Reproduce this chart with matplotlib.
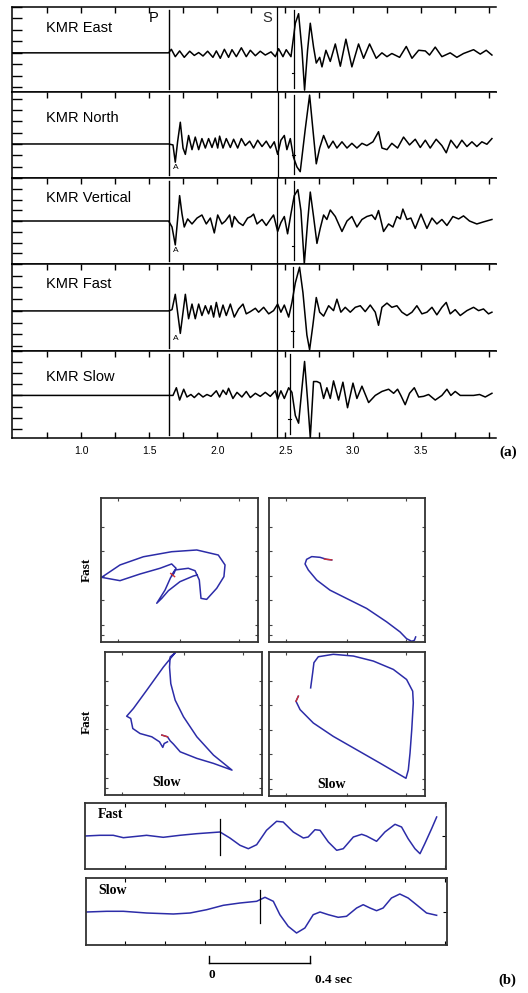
import numpy as np
import matplotlib.pyplot as plt

plt.rcParams["font.family"] = "Liberation Sans"

W, H = 528, 993

# ---------------- (a) KMR seismograms: time (s), amplitude ----------------
trace_names = ["KMR East", "KMR North", "KMR Vertical", "KMR Fast", "KMR Slow"]

east_t = [0.49, 1.642, 1.662, 1.691, 1.723, 1.757, 1.797, 1.831, 1.863, 1.895, 1.929, 1.968,
          1.993, 2.022, 2.052, 2.083, 2.108, 2.14, 2.177, 2.213, 2.243, 2.28, 2.316, 2.353,
          2.395, 2.427, 2.451, 2.483, 2.507, 2.542, 2.574, 2.598, 2.623, 2.642, 2.664, 2.684,
          2.708, 2.728, 2.753, 2.77, 2.799, 2.831, 2.868, 2.905, 2.946, 2.99, 3.039, 3.076,
          3.12, 3.169, 3.211, 3.248, 3.284, 3.341, 3.39, 3.432, 3.481, 3.53, 3.561, 3.603,
          3.652, 3.713, 3.762, 3.811, 3.885, 3.934, 3.978, 4.02]
east_a = [0, 0, 3.7, -4, 2, -4.7, 1.7, -2.7, 0.3, -3.3, 1.7, -4.7,
          2, -5.7, 3.7, -4.7, 3.3, -4, 5.3, -4, 2.7, -3, 1.7, -2.3,
          1, -4, 4.3, -4, 3.3, -4, 31, 41, 2.7, -39, 2.7, 31,
          6, -10.7, -4.7, -14.7, 2.7, -9, 9.3, -14, 14.3, -14.7, 9.3, -5.7,
          9.3, -5.7, 0, -4, -0.7, -4.7, 6.7, -5.7, 2.7, 2, -2.3, 6,
          -4, 0, -4.7, -0.7, 3.3, -1.3, 2.7, -2.3]

north_t = [0.49, 1.642, 1.674, 1.691, 1.708, 1.728, 1.748, 1.765, 1.789, 1.814, 1.838, 1.863,
           1.887, 1.912, 1.936, 1.961, 1.985, 2.003, 2.017, 2.042, 2.066, 2.096,
           2.12, 2.15, 2.177, 2.206, 2.238, 2.267, 2.297, 2.329, 2.36, 2.39,
           2.419, 2.444, 2.468, 2.493, 2.512, 2.537, 2.561, 2.586, 2.61, 2.647,
           2.679, 2.703, 2.728, 2.753, 2.782, 2.819, 2.851, 2.88, 2.917, 2.954,
           2.99, 3.027, 3.064, 3.1, 3.145, 3.186, 3.211, 3.248, 3.284, 3.326,
           3.37, 3.414, 3.456, 3.493, 3.53, 3.566, 3.61, 3.652, 3.684, 3.718,
           3.762, 3.799, 3.836, 3.873, 3.909, 3.946, 3.983, 4.02]
north_a = [0, 0, -1, -19.3, 2.3, 23, -4.3, -11, 9, -6, 7.3, -6,
           5.7, -4.3, 5.7, -3.7, 6.3, -4.3, 8.3, -4.3, 5.7, -3.7,
           5, -4.3, 5.7, -1.7, 3, -4.3, 4, -2.7, 3, -4.3,
           2.3, -11, 4, 9, -6, 5.7, -14.3, -24.3, -29.3, 15.7,
           51.7, 15.7, -21, -4.3, 9, -4.3, 3, -4.3, 2.3, -4.3,
           0.7, -4.3, 0.7, -1.7, 2.3, 13, -4.3, -6, 0.7, -4.3,
           7.3, -1, 5, -3.7, 4, -4.3, 5, -1.7, -9.3, 4,
           -4.3, 4, -2.7, 2.3, -2.7, 2.3, -0.3, 5.7]

vert_t = [0.49, 1.642, 1.667, 1.691, 1.708, 1.723, 1.74, 1.757, 1.782, 1.814, 1.851, 1.887,
          1.919, 1.949, 1.978, 2.003, 2.034, 2.059, 2.091, 2.108, 2.125, 2.157,
          2.189, 2.223, 2.248, 2.267, 2.292, 2.329, 2.36, 2.39, 2.414, 2.444,
          2.468, 2.493, 2.517, 2.542, 2.566, 2.593, 2.615, 2.64, 2.664, 2.684,
          2.708, 2.733, 2.757, 2.782, 2.806, 2.831, 2.868, 2.917, 2.954, 2.99,
          3.027, 3.064, 3.1, 3.137, 3.162, 3.186, 3.223, 3.26, 3.292, 3.321,
          3.346, 3.365, 3.395, 3.424, 3.456, 3.498, 3.542, 3.579, 3.615, 3.652,
          3.689, 3.733, 3.775, 3.811, 3.855, 3.909, 3.958, 4.02]
vert_a = [0, 0, -6.7, -26.7, 1.7, 28.3, 8.3, -6.7, 2.3, -3.3, 3.3, 6.7,
          -3.3, 3.3, -13.3, 6.7, -3.3, 0, 6.7, -6.7, 5, -1.7,
          -5, 3.3, 5, 7.7, -3.3, 1.7, -5, 1.7, 6.7, -11.7,
          -1.7, 5, -14.3, 8.3, 28.3, 35, 11.7, -47.7, -1.7, 32.3,
          5, -25, -8.3, 6.7, 1.7, 12.3, 5, -11.7, 0, 5,
          -6.7, 1.7, 5, 6.7, 1.7, 11.7, -11.7, -3.3, -6.7, 5,
          2.3, 13.3, 1.7, 3.3, -8.3, 7.7, -8.3, 3.3, -3.3, 1.7,
          -5, 5, 2.3, 5.7, 0, -3.3, -1, 1.7]

fast_t = [0.49, 1.642, 1.667, 1.691, 1.708, 1.728, 1.748, 1.765, 1.789, 1.814, 1.838, 1.863,
          1.887, 1.912, 1.936, 1.954, 1.973, 1.993, 2.017, 2.042, 2.066, 2.096,
          2.125, 2.157, 2.189, 2.213, 2.243, 2.28, 2.304, 2.341, 2.378, 2.414,
          2.444, 2.468, 2.493, 2.525, 2.549, 2.574, 2.605, 2.63, 2.659, 2.679,
          2.703, 2.728, 2.753, 2.782, 2.819, 2.855, 2.88, 2.909, 2.941, 2.978,
          3.015, 3.052, 3.088, 3.125, 3.162, 3.186, 3.211, 3.248, 3.284, 3.321,
          3.358, 3.395, 3.432, 3.468, 3.505, 3.542, 3.579, 3.615, 3.652, 3.684,
          3.713, 3.75, 3.787, 3.836, 3.885, 3.922, 3.958, 3.995, 4.02]
fast_a = [0, 0, 1.3, 17, -1.3, -23, -1.3, 17, -8, 7, -8, 7,
          -4.7, 5.3, -3, 5.3, -6.3, 8.7, -6.3, 6, -4.7, 7,
          -6.3, 2, 7, -3, -0.7, 2.7, -1.3, 3.7, -3, 0.3,
          7, -1.3, 6, -6.3, 8.7, 28.7, 44.7, 18.7, -24.7, -39.7,
          -14.7, 13.7, -1.3, -5.3, 5.3, 0.3, 12, -1.3, 3.7, -1.3,
          3.7, 5.3, -0.7, 6, -1.3, -14.7, 3.7, 8, 3.7, 5.3,
          -1.3, -4.7, -1.3, 5.3, -3, -1.3, 3.7, -4, 3.7, 8.7,
          -3, 1.3, -4.7, 0.3, 3.7, 0.3, 2, -3, -1.3]

slow_t = [0.49, 1.642, 1.674, 1.699, 1.723, 1.753, 1.777, 1.806, 1.831, 1.863, 1.895, 1.924,
          1.954, 1.993, 2.017, 2.042, 2.066, 2.083, 2.115, 2.145, 2.181, 2.213,
          2.243, 2.28, 2.316, 2.353, 2.39, 2.427, 2.444, 2.468, 2.493, 2.525,
          2.549, 2.574, 2.598, 2.623, 2.642, 2.664, 2.684, 2.708, 2.733, 2.757,
          2.782, 2.806, 2.831, 2.855, 2.892, 2.924, 2.958, 2.998, 3.027, 3.064,
          3.113, 3.162, 3.211, 3.26, 3.297, 3.326, 3.35, 3.382, 3.414, 3.449,
          3.481, 3.517, 3.554, 3.603, 3.652, 3.689, 3.718, 3.75, 3.787, 3.831,
          3.885, 3.929, 3.971, 4.02]
slow_a = [0, 0, 0, 8.3, -5, 6.7, -1.7, 1, -2.3, 2.3, -1.7, 1,
          -1, 5, -1.7, 5.7, 1, 7.7, -3.3, 3.3, -1.7, 4.3,
          -2.3, 2.3, -1, 3.3, -1, 5, -4.3, 5, -3.3, 8.3,
          3.3, -21.7, -30, 8.3, 36.7, -5, -45.7, 15, 15, 13.3,
          -3.3, 8.3, -3.3, 15.7, -5, 14.3, -13.3, 13.3, -3.3, 10,
          -7.7, 0, 4.3, 6.7, 2.3, 6.7, 0, -10, 2.3, 8.3,
          -1.7, -1, 1, -5, 0, 6.7, 0, 4.3, 0, 0,
          0, 1, -1.7, 2.3]

p_pick = 1.642
s_picks = [2.439, 2.444, 2.439, 2.439, 2.439]
t_picks = [2.561, 2.566, 2.561, 2.556, 2.537]
has_a_mark = [False, True, True, True, False]

# ---------------- (b) particle motion (slow, fast) ----------------
pm1_slow = [45.0, 47.1, 55.6, 59.9, 62.6, 63.7, 67.3, 73.7, 78.3, 79.0, 74.7, 61.0, 45.0, 27.0,
            12.1, 0.4, 12.1, 24.8, 37.6, 45.0, 47.8, 46.5, 44.4, 40.8, 35.5, 38.7, 42.9, 50.3,
            58.8, 61.3]
pm1_fast = [46.5, 50.0, 51.2, 49.5, 43.1, 30.3, 29.6, 37.3, 45.4, 53.5, 60.4, 63.9, 62.7, 59.2,
            53.5, 44.9, 42.6, 47.2, 51.2, 54.2, 51.2, 47.7, 44.9, 36.1, 26.9, 30.3, 35.6, 41.9,
            45.8, 46.5]
pm1_red = ([44.4, 46.9], [47.6, 45.4])

pm2_slow = [40.2, 37, 32.7, 27.4, 24.1, 23.1, 25.2, 30.6, 39.1, 49.8, 62.6, 75.4, 84, 88.2,
            91.5, 93.2, 94]
pm2_fast = [57, 57.4, 58.8, 59.3, 57.4, 54.2, 50, 43, 36, 30.2, 23.3, 14, 7, 2.3,
            0.5, 1.2, 3.5]
pm2_red = ([40.2, 35.5], [57, 57.6])

pm3_slow = [36.2, 39.8, 41.5, 43.6, 47.9, 58.5, 69.1, 80.9, 69.1, 58.5, 50, 44.7, 41.9, 41.1,
            41.5, 44.7, 37.2, 26.6, 18.1, 13.8, 16.4, 17.7, 22.3, 29.8, 34.7, 36.8, 37.7, 39.8]
pm3_fast = [41.9, 40.7, 37.9, 35.6, 30.2, 25.6, 22.1, 17.4, 27.9, 40.7, 54.7, 66.3, 77.9, 89.5,
            96.5, 99.5, 89.5, 73.3, 60.5, 55.1, 53.5, 46.5, 43, 40.7, 37.2, 33.3, 36, 37.2]
pm3_red = ([36.2, 39.8], [41.9, 40.7])

pm4_slow = [18.8, 17.3, 19.9, 28.4, 41.2, 56.2, 71.2, 84, 87.8, 89.3, 90.4, 91.5, 92.5, 92.1,
            88.2, 79.7, 66.9, 54.1, 41.2, 31.6, 28.8, 28, 26.7]
pm4_fast = [69.3, 65.8, 60, 50.7, 41.4, 32.1, 22.8, 14.7, 12.3, 18.1, 29.8, 46, 64.7, 72.8,
            80.9, 87.9, 93.7, 97.2, 98.4, 96.7, 92.6, 85.6, 75.1]
pm4_red = ([18.8, 17.3], [69.3, 65.8])

# ---------------- (b) windowed fast / slow traces ----------------
bfast_t = [-0.491, -0.432, -0.379, -0.339, -0.273, -0.247, -0.181, -0.115, -0.049, 0.044,
           0.083, 0.123, 0.156, 0.189, 0.228, 0.268, 0.294, 0.334, 0.374, 0.393,
           0.42, 0.44, 0.473, 0.506, 0.532, 0.572, 0.605, 0.624, 0.664, 0.697,
           0.737, 0.763, 0.789, 0.816, 0.836, 0.855, 0.882, 0.902]
bfast_a = [0, 0.7, 0.7, -1.7, 0, 0.7, -1.3, 0.7, 2.3, 4,
           -2, -9.3, -12.7, -8.7, 5.7, 14.7, 14, 4, -2, -1,
           6.3, 5.7, -6, -14.3, -12.7, -1, 1.7, 0, -5.3, 4,
           11.7, 9, -2.7, -12.7, -17.7, -7.7, 7.3, 19]

bslow_t = [-0.485, -0.405, -0.339, -0.247, -0.141, -0.075, -0.009, 0.057, 0.123, 0.189,
           0.222, 0.255, 0.281, 0.314, 0.347, 0.38, 0.413, 0.44, 0.473, 0.512,
           0.545, 0.585, 0.611, 0.638, 0.664, 0.69, 0.723, 0.756, 0.789, 0.822,
           0.862, 0.902]
bslow_a = [0, 0.7, 0.7, -1, -2, -1, 2.3, 6.7, 9, 10.7,
           14.7, 10.7, -2.7, -14.3, -21, -16, -2.7, 0, -2.7, -5.3,
           -4.3, 4, 7.3, 4, 1.3, 4, 14, 18, 14, 7.3,
           -1, -3.3]
bfast_pick = 0.044
bslow_pick = 0.202


fig = plt.figure(figsize=(W / 100, H / 100), dpi=100)


def px_axes(x0, y0, x1, y1):
    return fig.add_axes([x0 / W, 1 - y1 / H, (x1 - x0) / W, (y1 - y0) / H])


def px_text(x, y, s, **kw):
    return fig.text(x / W, 1 - y / H, s, **kw)


# ---- panel (a)
traces = [(east_t, east_a), (north_t, north_a), (vert_t, vert_a),
          (fast_t, fast_a), (slow_t, slow_a)]
rows = [(7, 92), (92, 178), (178, 264), (264, 351), (351, 438)]
ylims = [(-41, 44), (-31, 55), (-48, 37), (-41, 46), (-46, 41)]
name_y = [0.75, 0.70, 0.77, 0.77, 0.70]

for i, (t, a) in enumerate(traces):
    ax = px_axes(12, rows[i][0], 496, rows[i][1])
    ax.plot(t, a, color="black", lw=1.1)
    ax.set_xlim(0.49, 4.05)
    ax.set_ylim(*ylims[i])
    ax.spines["right"].set_visible(False)
    for s in ["left", "top", "bottom"]:
        ax.spines[s].set_linewidth(1.1)
    last = i == len(traces) - 1
    ax.set_xticks([1.0, 1.5, 2.0, 2.5, 3.0, 3.5])
    ax.set_xticks(np.arange(0.75, 4.01, 0.25), minor=True)
    if last:
        ax.set_xticklabels(["1.0", "1.5", "2.0", "2.5", "3.0", "3.5"], fontsize=7.5)
    else:
        ax.set_xticklabels([])
    ax.set_yticks(np.arange(-36, 51, 12))
    ax.set_yticklabels([])
    ax.tick_params(axis="x", which="both", direction="in", top=True, bottom=last,
                   length=4, width=1.0, pad=6)
    ax.tick_params(axis="y", direction="in", left=True, right=False, length=7, width=1.0)

    ax.axvline(p_pick, 0.03, 0.96, color="black", lw=1.0)
    ax.axvline(s_picks[i], 0.0, 1.0, color="black", lw=0.9)
    ax.axvline(t_picks[i], 0.05, 0.97, color="black", lw=0.9)
    ax.plot([t_picks[i] - 0.015, t_picks[i] + 0.005],
            [ylims[i][0] + 0.23 * (ylims[i][1] - ylims[i][0])] * 2, color="black", lw=0.8)
    if has_a_mark[i]:
        ax.text(1.695, min(a[:8]) - 2, "A", fontsize=6, ha="center", va="top")
    ax.text(0.07, name_y[i], trace_names[i], transform=ax.transAxes, fontsize=10.5,
            va="center", ha="left")
    if i == 0:
        ax.text(1.53, 0.87, "P", transform=ax.get_xaxis_transform(), fontsize=10.5,
                ha="center", va="center")
        ax.text(2.37, 0.87, "S", transform=ax.get_xaxis_transform(), fontsize=10.5,
                ha="center", va="center", color="#2a2a2a")

px_text(508, 452, "(a)", family="Liberation Serif", fontweight="bold", fontsize=11,
        ha="center", va="center")

# ---- panel (b) particle motions
blue = "#2c2ca8"
serif = "Liberation Serif"
pm_boxes = [(101, 498, 258, 642), (269, 498, 425, 642), (105, 652, 262, 795), (269, 652, 425, 796)]
pms = [(pm1_slow, pm1_fast, pm1_red), (pm2_slow, pm2_fast, pm2_red),
       (pm3_slow, pm3_fast, pm3_red), (pm4_slow, pm4_fast, pm4_red)]
for box, (sx, fy, red) in zip(pm_boxes, pms):
    ax = px_axes(*box)
    ax.plot(sx, fy, color=blue, lw=1.1)
    ax.plot(red[0], red[1], color="#d03030", lw=1.0)
    ax.set_xlim(0, 100)
    ax.set_ylim(0, 100)
    ax.set_xticks([11, 50, 88])
    ax.set_yticks([5, 12, 29, 46, 63, 80])
    ax.set_xticklabels([])
    ax.set_yticklabels([])
    ax.tick_params(direction="in", top=True, right=True, length=2.5, width=0.8, color="#444")
    for s in ax.spines.values():
        s.set_linewidth(1.3)
        s.set_color("#333333")

px_text(87, 570, "Fast", family=serif, fontweight="bold", fontsize=9.5, rotation=90,
        ha="center", va="center")
px_text(87, 722, "Fast", family=serif, fontweight="bold", fontsize=9.5, rotation=90,
        ha="center", va="center")
px_text(167, 782, "Slow", family=serif, fontweight="bold", fontsize=10, ha="center", va="center")
px_text(332, 784, "Slow", family=serif, fontweight="bold", fontsize=10, ha="center", va="center")

# ---- panel (b) traces
tick_pos = np.arange(-0.333, 0.94, 0.1584)
for box, xl, (t, a), pick, yl, lab, pk in [
        ((85, 803, 446, 869), (-0.491, 0.939), (bfast_t, bfast_a), bfast_pick, (-33, 33), "Fast", (-19.3, 16.7)),
        ((86, 878, 447, 945), (-0.487, 0.943), (bslow_t, bslow_a), bslow_pick, (-33, 34), "Slow", (-11, 22.3))]:
    ax = px_axes(*box)
    ax.plot(t, a, color=blue, lw=1.1)
    ax.plot([pick, pick], pk, color="black", lw=0.9)
    ax.set_xlim(*xl)
    ax.set_ylim(*yl)
    ax.set_xticks(tick_pos)
    ax.set_yticks([0])
    ax.set_xticklabels([])
    ax.set_yticklabels([])
    ax.tick_params(direction="in", top=True, right=True, left=False, length=3, width=0.8)
    for s in ax.spines.values():
        s.set_linewidth(1.3)
        s.set_color("#333333")
    ax.text(0.035, 0.82, lab, transform=ax.transAxes, family=serif, fontweight="bold",
            fontsize=10, ha="left", va="center")

# scale bar
sb = px_axes(86, 948, 447, 990)
sb.set_xlim(-0.487, 0.943)
sb.set_ylim(0, 1)
sb.axis("off")
sb.plot([0, 0.4], [0.64, 0.64], color="black", lw=1.0)
sb.plot([0, 0], [0.64, 0.82], color="black", lw=1.0)
sb.plot([0.4, 0.4], [0.64, 0.82], color="black", lw=1.0)
sb.text(0.01, 0.36, "0", family=serif, fontweight="bold", fontsize=9.5, ha="center", va="center")
sb.text(0.495, 0.24, "0.4 sec", family=serif, fontweight="bold", fontsize=9.5, ha="center",
        va="center")

px_text(507, 980, "(b)", family=serif, fontweight="bold", fontsize=10.5, ha="center",
        va="center")

fig.savefig("out.png", dpi=100)
